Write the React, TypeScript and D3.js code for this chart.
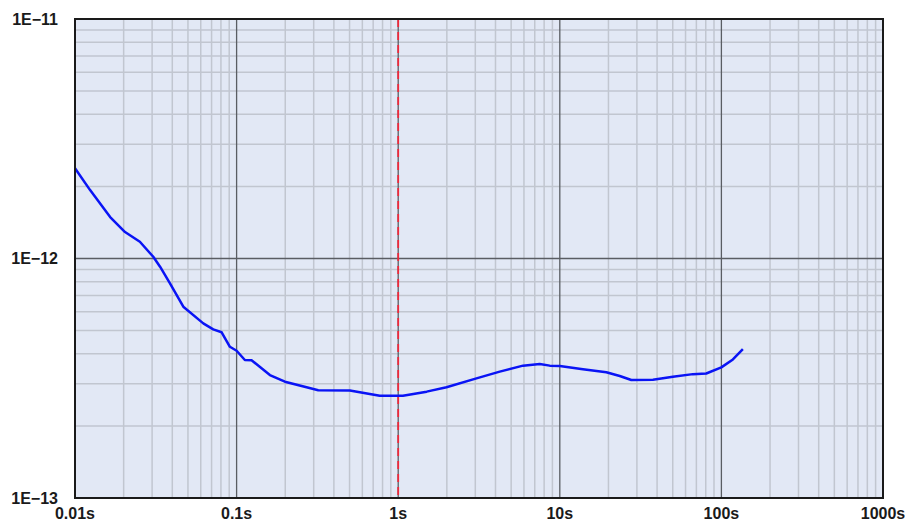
import { useEffect, useRef } from 'react';
import * as d3 from 'd3';

// measured curve: time (s) and value
const times = [
  0.01, 0.0124, 0.0165, 0.0204, 0.0252, 0.0305, 0.0336, 0.0387, 0.0468, 0.0622,
  0.0717, 0.0808, 0.0909, 0.1, 0.1125, 0.1238, 0.1607, 0.199, 0.271, 0.32,
  0.502, 0.667, 0.769, 1.07, 1.5, 1.99, 3.05, 4.25, 5.92, 7.51,
  8.66, 10.0, 13.9, 19.4, 23.5, 27.7, 37.7, 50.1, 66.6, 80.6,
  99.9, 117.8, 135.8
];
const values = [
  2.38e-12, 1.93e-12, 1.49e-12, 1.29e-12, 1.175e-12, 1.017e-12, 9.24e-13, 7.88e-13, 6.29e-13, 5.36e-13,
  5.06e-13, 4.92e-13, 4.28e-13, 4.12e-13, 3.77e-13, 3.76e-13, 3.26e-13, 3.06e-13, 2.9e-13, 2.82e-13,
  2.81e-13, 2.72e-13, 2.67e-13, 2.67e-13, 2.78e-13, 2.9e-13, 3.16e-13, 3.37e-13, 3.57e-13, 3.63e-13,
  3.57e-13, 3.56e-13, 3.45e-13, 3.35e-13, 3.23e-13, 3.11e-13, 3.12e-13, 3.21e-13, 3.29e-13, 3.31e-13,
  3.51e-13, 3.79e-13, 4.18e-13
];
const xTicks = [0.01, 0.1, 1, 10, 100, 1000];
const xTickLabels = ['0.01s', '0.1s', '1s', '10s', '100s', '1000s'];
const yTicks = [1e-13, 1e-12, 1e-11];
const yTickLabels = ['1E\u221213', '1E\u221212', '1E\u221211'];
const markerTime = 1;

const App = () => {
  const ref = useRef<SVGSVGElement>(null);

  useEffect(() => {
    const svg = d3.select(ref.current);
    svg.selectAll('*').remove();

    const left = 75, right = 883, top = 19, bottom = 498;
    const x = d3.scaleLog().domain([0.01, 1000]).range([left, right]);
    const y = d3.scaleLog().domain([1e-13, 1e-11]).range([bottom, top]);

    svg.append('rect')
      .attr('x', left).attr('y', top)
      .attr('width', right - left).attr('height', bottom - top)
      .attr('fill', '#e2e8f5');

    // minor grid
    const minorX: number[] = [];
    const minorY: number[] = [];
    for (let d = 0.01; d < 1000; d *= 10) {
      for (let k = 2; k <= 9; k++) minorX.push(d * k);
    }
    for (let d = 1e-13; d < 1e-11 * 0.99; d *= 10) {
      for (let k = 2; k <= 9; k++) minorY.push(d * k);
    }
    svg.append('g').selectAll('line').data(minorX).join('line')
      .attr('x1', d => x(d)).attr('x2', d => x(d))
      .attr('y1', top).attr('y2', bottom)
      .attr('stroke', '#c1c6d0').attr('stroke-width', 1.5);
    svg.append('g').selectAll('line').data(minorY).join('line')
      .attr('y1', d => y(d)).attr('y2', d => y(d))
      .attr('x1', left).attr('x2', right)
      .attr('stroke', '#c1c6d0').attr('stroke-width', 1.5);

    // major grid
    svg.append('g').selectAll('line').data(xTicks.slice(1, -1)).join('line')
      .attr('x1', d => x(d)).attr('x2', d => x(d))
      .attr('y1', top).attr('y2', bottom)
      .attr('stroke', '#5a5d63').attr('stroke-width', 1.3);
    svg.append('g').selectAll('line').data(yTicks.slice(1, -1)).join('line')
      .attr('y1', d => y(d)).attr('y2', d => y(d))
      .attr('x1', left).attr('x2', right)
      .attr('stroke', '#5a5d63').attr('stroke-width', 1.3);

    // marker at 1s
    svg.append('line')
      .attr('x1', x(markerTime)).attr('x2', x(markerTime))
      .attr('y1', top).attr('y2', bottom)
      .attr('stroke', '#f0283a').attr('stroke-width', 1.8)
      .attr('stroke-dasharray', '8,5');

    const pts = times.map((t, i) => [t, values[i]] as [number, number]);
    const line = d3.line<[number, number]>()
      .x(d => x(d[0]))
      .y(d => y(d[1]));
    svg.append('path')
      .datum(pts)
      .attr('d', line)
      .attr('fill', 'none')
      .attr('stroke', '#0a14f5')
      .attr('stroke-width', 2.5)
      .attr('stroke-linejoin', 'round');

    // border
    svg.append('rect')
      .attr('x', left).attr('y', top)
      .attr('width', right - left).attr('height', bottom - top)
      .attr('fill', 'none')
      .attr('stroke', '#1a1a1a').attr('stroke-width', 2);

    // labels
    svg.append('g').selectAll('text').data(xTicks).join('text')
      .attr('x', d => x(d)).attr('y', 519)
      .attr('text-anchor', 'middle')
      .attr('font-family', 'Liberation Sans, Arial, sans-serif')
      .attr('font-weight', 'bold').attr('font-size', 16)
      .attr('fill', '#1a1a1a')
      .text((d, i) => xTickLabels[i]);
    svg.append('g').selectAll('text').data(yTicks).join('text')
      .attr('x', 58).attr('y', d => y(d))
      .attr('dy', '0.36em')
      .attr('text-anchor', 'end')
      .attr('font-family', 'Liberation Sans, Arial, sans-serif')
      .attr('font-weight', 'bold').attr('font-size', 16)
      .attr('fill', '#1a1a1a')
      .text((d, i) => yTickLabels[i]);
  }, []);

  return (
    <svg ref={ref} width={905} height={521}
      style={{ position: 'absolute', left: 0, top: 0, background: '#fff' }} />
  );
};

export default App;
